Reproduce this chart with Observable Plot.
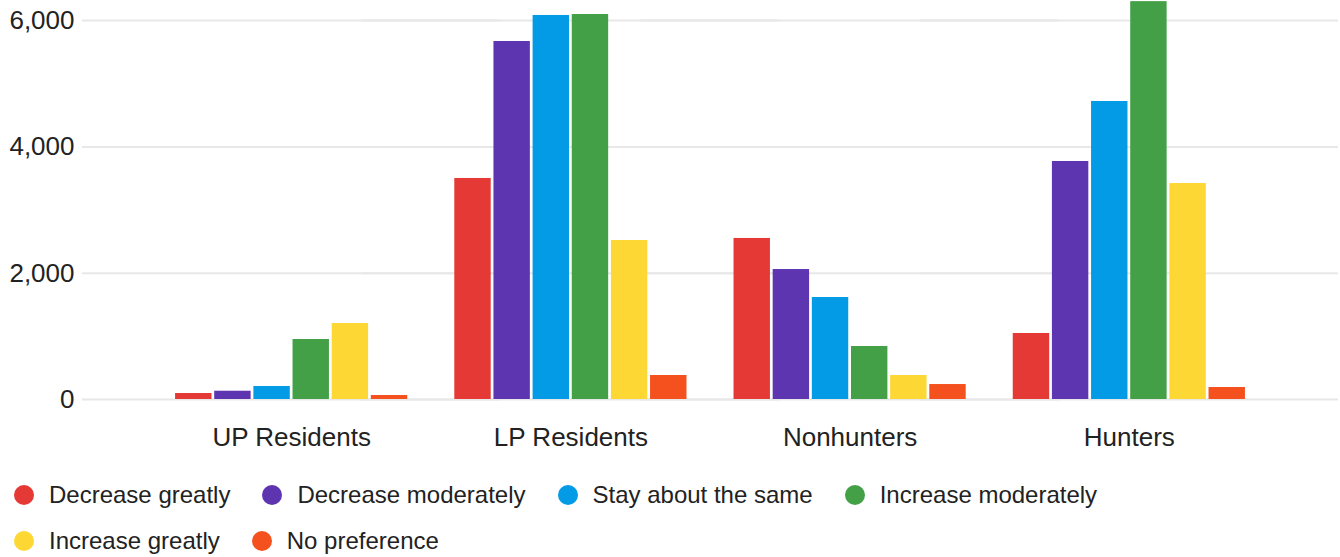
<!DOCTYPE html>
<html>
<head>
<meta charset="utf-8">
<script src="https://cdn.jsdelivr.net/npm/d3@7"></script>
<script src="https://cdn.jsdelivr.net/npm/@observablehq/plot@0.6"></script>
<style>
  html, body { margin: 0; padding: 0; background: #fff; }
  body { font-family: "Liberation Sans", Arial, sans-serif; width: 1340px; height: 557px; overflow: hidden; }
  #legend { display: flex; flex-wrap: wrap; width: 1200px; padding-left: 14px; margin-top: 7px; }
  .item { display: flex; align-items: center; height: 46px; margin-right: 32px; font-size: 24px; color: #222; }
  .dot { width: 20px; height: 20px; border-radius: 50%; margin-right: 15px; flex: none; }
</style>
</head>
<body>
<div id="chart"></div>
<div id="legend"></div>
<script>
const groups = ["UP Residents", "LP Residents", "Nonhunters", "Hunters"];
const series = ["Decrease greatly", "Decrease moderately", "Stay about the same", "Increase moderately", "Increase greatly", "No preference"];
const colors = ["#E53935", "#5E35B1", "#039BE5", "#43A047", "#FDD835", "#F4511E"];

const decreaseGreatly     = [95, 3500, 2550, 1045];
const decreaseModerately  = [131, 5669, 2058, 3769];
const stayAboutTheSame    = [206, 6081, 1615, 4719];
const increaseModerately  = [950, 6096, 839, 6300];
const increaseGreatly     = [1203, 2518, 380, 3420];
const noPreference        = [63, 380, 237, 190];

const yTicks = [0, 2000, 4000, 6000];

const seriesValues = [decreaseGreatly, decreaseModerately, stayAboutTheSame, increaseModerately, increaseGreatly, noPreference];
const data = groups.flatMap((g, i) => series.map((s, j) => ({group: g, series: s, value: seriesValues[j][i]})));

const W = 1340, ML = 82, MR = 2;
const fxPadInner = 0.1685, fxPadOuter = 0.3333;
const fxStep = (W - ML - MR) / (groups.length - fxPadInner + 2 * fxPadOuter);
const outer = fxPadOuter * fxStep;

const font = '"Liberation Sans", Arial, sans-serif';
const chart = Plot.plot({
  width: W,
  height: 465,
  marginTop: 0,
  marginLeft: ML,
  marginRight: MR,
  marginBottom: 66,
  style: {fontFamily: font, fontSize: "26px", color: "#222", background: "#fff"},
  fx: {domain: groups, paddingInner: fxPadInner, paddingOuter: fxPadOuter, label: null, round: false},
  x: {domain: series, paddingInner: 0.07, paddingOuter: 0, axis: null, round: false},
  y: {domain: [0, 6318], label: null},
  color: {domain: series, range: colors},
  marks: [
    Plot.ruleY(yTicks, {stroke: "#e8e8e8", strokeWidth: 2, insetLeft: -outer, insetRight: -outer}),
    Plot.axisY({ticks: yTicks, tickSize: 0, tickPadding: 8 + outer, tickFormat: d3.format(","), fontSize: 26, label: null}),
    Plot.axisFx({anchor: "bottom", tickSize: 0, tickPadding: 28, fontSize: 26, label: null}),
    Plot.barY(data, {fx: "group", x: "series", y: "value", fill: "series"})
  ]
});
document.getElementById("chart").appendChild(chart);

const legend = document.getElementById("legend");
series.forEach((s, i) => {
  const item = document.createElement("div");
  item.className = "item";
  const dot = document.createElement("span");
  dot.className = "dot";
  dot.style.background = colors[i];
  const label = document.createElement("span");
  label.textContent = s;
  item.appendChild(dot);
  item.appendChild(label);
  legend.appendChild(item);
});
</script>
</body>
</html>
